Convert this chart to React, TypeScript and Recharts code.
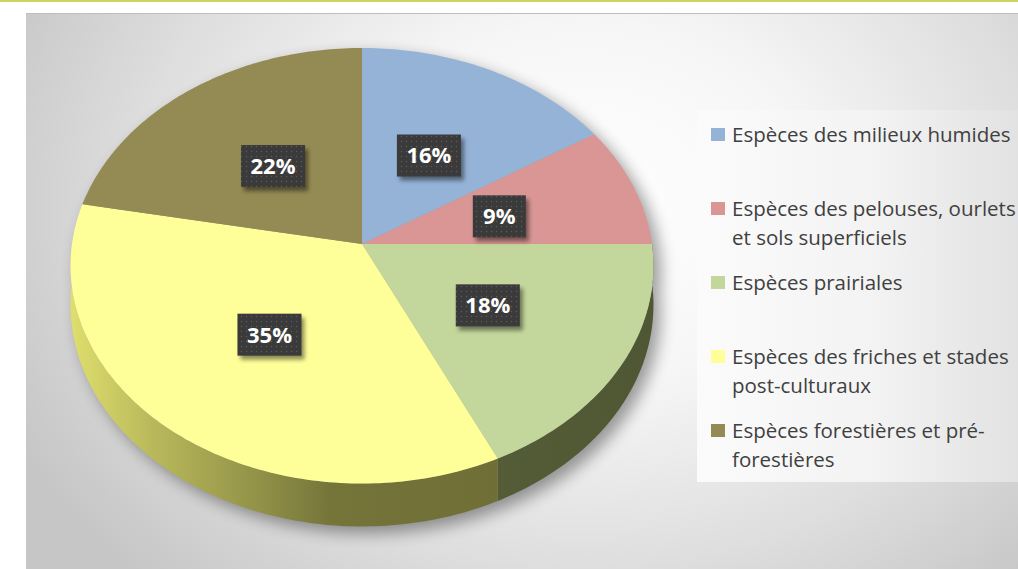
import React from 'react';
import { PieChart, Pie, Cell, Legend } from 'recharts';

// ---- data ----
const categories = [
  'Espèces des milieux humides',
  'Espèces des pelouses, ourlets et sols superficiels',
  'Espèces prairiales',
  'Espèces des friches et stades post-culturaux',
  'Espèces forestières et pré-forestières',
];
const shares = [16, 9, 18, 35, 22];
const colors = ['#95B3D7', '#D99694', '#C3D69B', '#FFFF99', '#948A54'];

const data = categories.map((name, i) => ({ name, value: shares[i] }));

// ---- layout / style ----
const W = 1018;
const H = 569;
const PIE_CX = 362;
const PIE_CY = 244;
const PIE_R = 290;
const TILT = 0.7434; // vertical squash of the tilted disc
const PERSP = 0.1; // perspective strength
const DEPTH = 38.6; // thickness of the disc

const project = (cx: number, cy: number, phiDeg: number, r: number, R: number): [number, number] => {
  const p = (phiDeg * Math.PI) / 180;
  const s = 1 / (1 + PERSP * r * Math.sin(p));
  return [cx + R * r * Math.cos(p) * s, cy - R * TILT * r * Math.sin(p) * s];
};
const thick = (phiDeg: number) => DEPTH / (1 + PERSP * Math.sin((phiDeg * Math.PI) / 180));

const arc = (cx: number, cy: number, a: number, b: number, R: number, down = false) => {
  const n = Math.max(2, Math.ceil(Math.abs(b - a)));
  const pts: [number, number][] = [];
  for (let i = 0; i <= n; i++) {
    const phi = a + ((b - a) * i) / n;
    const [x, y] = project(cx, cy, phi, 1, R);
    pts.push([x, down ? y + thick(phi) : y]);
  }
  return pts;
};
const toPath = (pts: [number, number][]) =>
  'M' + pts.map(([x, y]) => `${x.toFixed(2)},${y.toFixed(2)}`).join('L') + 'Z';

const shade = (hex: string, f: number) => {
  const n = parseInt(hex.slice(1), 16);
  const r = Math.round(((n >> 16) & 255) * f);
  const g = Math.round(((n >> 8) & 255) * f);
  const b = Math.round((n & 255) * f * 0.82);
  return `rgb(${r},${g},${b})`;
};
const sideStops: [number, number][] = [
  [0, 0.87],
  [0.134, 0.73],
  [0.324, 0.57],
  [0.445, 0.46],
  [0.755, 0.43],
  [1, 0.4],
];

const sideRange = (sa: number, ea: number): [number, number] | null => {
  const hi = Math.min(Math.max(sa, ea), 0);
  const lo = Math.max(Math.min(sa, ea), -180);
  return lo < hi ? [lo, hi] : null;
};

const renderSlice = (props: any) => {
  const { cx, cy, startAngle, endAngle, outerRadius, index } = props;
  const R = outerRadius;
  const color = colors[index];
  const top = [[cx, cy] as [number, number], ...arc(cx, cy, startAngle, endAngle, R)];
  const range = sideRange(startAngle, endAngle);
  let side: string | null = null;
  if (range) {
    const upper = arc(cx, cy, range[1], range[0], R);
    const lower = arc(cx, cy, range[0], range[1], R, true);
    side = toPath([...upper, ...lower]);
  }
  let shadow: React.ReactNode = null;
  if (index === 0) {
    const full = toPath(arc(cx, cy, 90, -270, R));
    const band = toPath([...arc(cx, cy, 0, -180, R), ...arc(cx, cy, -180, 0, R, true)]);
    shadow = (
      <g>
        <defs>
          <filter id="pieShadow" x="-20%" y="-20%" width="140%" height="140%">
            <feGaussianBlur stdDeviation="8" />
          </filter>
          <filter id="boxShadow" x="-30%" y="-30%" width="160%" height="160%">
            <feGaussianBlur stdDeviation="2" />
          </filter>
          <pattern id="dots" width="5" height="5" patternUnits="userSpaceOnUse">
            <circle cx="1.5" cy="1.5" r="0.7" fill="#5c5c5c" />
          </pattern>
          {colors.map((c, i) => (
            <linearGradient
              key={i}
              id={`side${i}`}
              gradientUnits="userSpaceOnUse"
              x1={cx - R}
              x2={cx + R}
              y1={0}
              y2={0}
            >
              {sideStops.map(([o, f], j) => (
                <stop key={j} offset={o} stopColor={shade(c, f)} />
              ))}
            </linearGradient>
          ))}
        </defs>
        <g opacity={0.38} filter="url(#pieShadow)" transform="translate(7,7)">
          <path d={full} fill="#000" />
          <path d={band} fill="#000" />
        </g>
      </g>
    );
  }
  return (
    <g key={`slice-${index}`}>
      {shadow}
      {side && <path d={side} fill={`url(#side${index})`} stroke="none" />}
      <path d={toPath(top)} fill={color} fillOpacity={1} stroke="none" />
    </g>
  );
};

const renderBox = (props: any) => {
  const { cx, cy, midAngle, outerRadius, index, percent } = props;
  const [x, y0] = project(cx, cy, midAngle, 0.5, outerRadius);
  const y = y0 + 2;
  const text = `${Math.round(percent * 100)}%`;
  const w = 31 + 11 * text.length;
  const h = 42;
  return (
    <g key={`box-${index}`}>
      <rect x={x - w / 2 + 3} y={y - h / 2 + 4} width={w} height={h} fill="#000" opacity={0.45} filter="url(#boxShadow)" />
      <rect x={x - w / 2} y={y - h / 2} width={w} height={h} fill="#3a3a3a" />
      <rect x={x - w / 2} y={y - h / 2} width={w} height={h} fill="url(#dots)" />
      <text
        x={x}
        y={y}
        dy="0.36em"
        textAnchor="middle"
        fill="#ffffff"
        fontFamily="'Open Sans', sans-serif"
        fontWeight={700}
        fontSize={22}
      >
        {text}
      </text>
    </g>
  );
};

const wrapLabel = (t: string, max: number) => {
  const tokens = t.split(/(?<=[\s-])/);
  const lines: string[] = [];
  let line = '';
  tokens.forEach((tok) => {
    if (line && (line + tok).trimEnd().length > max) {
      lines.push(line.trimEnd());
      line = tok;
    } else {
      line += tok;
    }
  });
  if (line) lines.push(line.trimEnd());
  return lines;
};

const renderLegend = (props: any) => {
  const payload = (props.payload || []).filter((p: any) => p.type !== 'none');
  const present = new Set<string>(payload.map((p: any) => p.value));
  const names = present.size ? categories.filter((c) => present.has(c)) : categories;
  return (
    <div
      style={{
        position: 'relative',
        width: 321,
        height: 372,
        background: 'linear-gradient(to right, #fbfbfb 0%, #f3f3f3 55%, #e2e2e2 100%)',
        overflow: 'hidden',
        fontFamily: "'Open Sans', sans-serif",
        fontSize: 20.5,
        color: '#404040',
      }}
    >
      {names.map((name: string, i: number) => {
        const idx = categories.indexOf(name);
        const top = 9.75 + 74 * i;
        return (
          <div key={i} style={{ position: 'absolute', left: 0, top, width: 400 }}>
            <div
              style={{
                position: 'absolute',
                left: 14,
                top: 8.25,
                width: 14,
                height: 13,
                background: colors[idx],
              }}
            />
            <div style={{ position: 'absolute', left: 35, top: 0, lineHeight: '29.5px', whiteSpace: 'nowrap' }}>
              {wrapLabel(name, 29).map((l, j) => (
                <div key={j}>{l}</div>
              ))}
            </div>
          </div>
        );
      })}
    </div>
  );
};

export default function App() {
  return (
    <div style={{ position: 'absolute', left: 0, top: 0, width: W, height: H, background: '#ffffff', overflow: 'hidden' }}>
      <style>{'body{margin:0}'}</style>
      <div style={{ position: 'absolute', left: 0, top: 0, width: W, height: 2, background: '#cdd65c' }} />
      <div
        style={{
          position: 'absolute',
          left: 26,
          top: 13,
          width: W - 26,
          height: H - 13,
          borderTop: '1px solid #bdbdbd',
          boxSizing: 'border-box',
          background:
            'radial-gradient(ellipse 640px 520px at 560px 190px, #ffffff 0%, #f6f6f6 35%, #dedede 70%, #c6c6c6 100%)',
        }}
      />
      <div style={{ position: 'absolute', left: 0, top: 0 }}>
        <PieChart width={W} height={H} margin={{ top: 0, right: 0, bottom: 0, left: 0 }}>
          <Pie
            data={data}
            dataKey="value"
            nameKey="name"
            cx={PIE_CX}
            cy={PIE_CY}
            outerRadius={PIE_R}
            startAngle={90}
            endAngle={-270}
            stroke="none"
            isAnimationActive={false}
            labelLine={false}
            label={renderSlice}
          >
            {data.map((_, i) => (
              <Cell key={i} fill={colors[i]} fillOpacity={0} stroke="none" />
            ))}
          </Pie>
          <Pie
            data={data}
            dataKey="value"
            nameKey="name"
            cx={PIE_CX}
            cy={PIE_CY}
            outerRadius={PIE_R}
            startAngle={90}
            endAngle={-270}
            stroke="none"
            fill="transparent"
            legendType="none"
            isAnimationActive={false}
            labelLine={false}
            label={renderBox}
          />
          <Legend
            layout="vertical"
            align="right"
            verticalAlign="top"
            content={renderLegend}
            wrapperStyle={{ position: 'absolute', left: 697, top: 110, width: 321, height: 372 }}
          />
        </PieChart>
      </div>
    </div>
  );
}
